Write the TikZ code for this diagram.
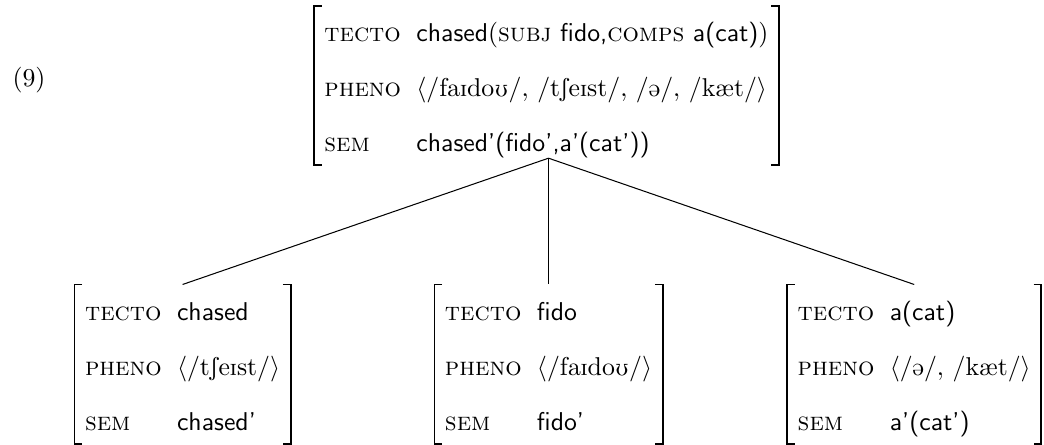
\documentclass[tikz,border=0pt]{standalone}
\usepackage{tipa}
\usepackage{tikz}

% feature table: first baseline at the top, rows 21.4pt apart
\newcommand{\avm}[1]{\begin{tabular}[t]{@{}l@{\hspace{5.95pt}}l@{}}#1\end{tabular}}
\newcommand{\feat}[1]{\textsc{#1}}
\newcommand{\val}[1]{\textsf{#1}}
\newcommand{\nxt}{\\[9.4pt]}

\begin{document}
\begin{tikzpicture}[x=1pt,y=1pt]
	\tikzstyle{avm} = [inner xsep=3.9pt,inner ysep=0pt,text height=13.6pt,text depth=47.85pt];
	\tikzstyle{bracket} = [draw,line width=0.7pt,color=black];
	\tikzstyle{branch} = [draw,thin,color=black];
	\useasboundingbox (0,0) rectangle (405.4,-172.8);
	\node (ex) at (4.66,-33.7) [anchor=base west,inner sep=0pt] {(9)};
	\node (root) at (212.2,-33.2) [avm] {\avm{
		\feat{tecto} & \val{chased}(\feat{subj} \val{fido,}\feat{comps} \val{a(cat)}) \nxt
		\feat{pheno} & $\langle$\textipa{/faIdoU/, /tSeIst/, /@/,} /k\ae t/$\rangle$ \nxt
		\feat{sem} & \val{chased'(fido',a'(cat'))}}};
	\node (chased) at (70.9,-141.4) [avm] {\avm{
		\feat{tecto} & \val{chased} \nxt
		\feat{pheno} & $\langle$\textipa{/tSeIst/}$\rangle$ \nxt
		\feat{sem} & \val{chased'}}};
	\node (fido) at (213,-141.4) [avm] {\avm{
		\feat{tecto} & \val{fido} \nxt
		\feat{pheno} & $\langle$\textipa{/faIdoU/}$\rangle$ \nxt
		\feat{sem} & \val{fido'}}};
	\node (acat) at (355,-141.4) [avm] {\avm{
		\feat{tecto} & \val{a(cat)} \nxt
		\feat{pheno} & $\langle$\textipa{/@/,} /k\ae t/$\rangle$ \nxt
		\feat{sem} & \val{a'(cat')}}};
	% square brackets round each table
	\foreach \n in {root,chased,fido,acat} {
		\path [bracket] ([xshift=3pt]\n.north west) -- (\n.north west) -- (\n.south west) -- ([xshift=3pt]\n.south west);
		\path [bracket] ([xshift=-3pt]\n.north east) -- (\n.north east) -- (\n.south east) -- ([xshift=-3pt]\n.south east);
	}
	\path (fido.north |- root.south) ++(0,2.7) coordinate (top);
	\path [branch] (top) -- (chased.north);
	\path [branch] (top) -- (fido.north);
	\path [branch] (top) -- (acat.north);
\end{tikzpicture}
\end{document}
